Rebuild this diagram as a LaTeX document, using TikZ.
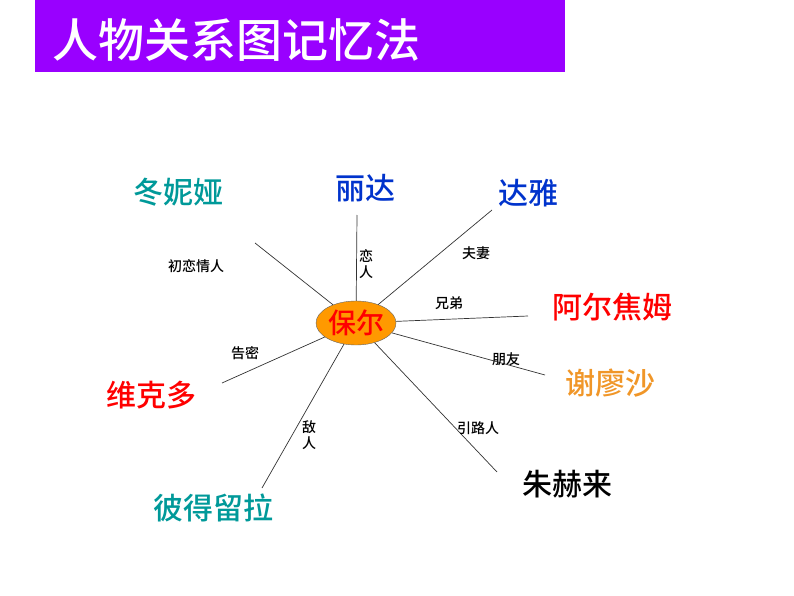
\documentclass[tikz,border=0pt]{standalone}
\usepackage{fontspec}
\newfontfamily\cjk{Noto Sans CJK SC Medium}
\usetikzlibrary{shapes.geometric}
\definecolor{ttl}{RGB}{153,0,255}
\definecolor{teal2}{RGB}{0,153,153}
\definecolor{blu}{RGB}{0,51,204}
\definecolor{org}{RGB}{255,153,0}
\definecolor{org2}{RGB}{240,150,40}
\begin{document}
\begin{tikzpicture}[x=1pt,y=-1pt,
  nm/.style={font=\cjk\fontsize{30}{32}\selectfont,inner sep=0pt},
  lb/.style={font=\cjk\fontsize{14}{16}\selectfont,inner sep=0pt,align=center},
  ln/.style={draw=black!80,line width=0.7pt}]
\useasboundingbox (0,0) rectangle (794,596);
\fill[ttl] (35,0) rectangle (565,72);
\node[font=\cjk\fontsize{46}{50}\selectfont,text=white,anchor=west,inner sep=0pt] (title) at (52,40) {人物关系图记忆法};
\node[ellipse,fill=org,draw=black!60,minimum width=80pt,minimum height=44pt,inner sep=0pt,font=\cjk\fontsize{28}{30}\selectfont,text=red] (c) at (356,323) {保尔};
\node[nm,text=teal2] (a) at (178,192) {冬妮娅};
\node[nm,text=blu] (b) at (365,188) {丽达};
\node[nm,text=blu] (d) at (528,193) {达雅};
\node[nm,text=red] (e) at (612,307) {阿尔焦姆};
\node[nm,text=org2] (f) at (610,383) {谢廖沙};
\node[nm,text=black] (g) at (567,484) {朱赫来};
\node[nm,text=teal2] (h) at (213,508) {彼得留拉};
\node[nm,text=red] (i) at (151,395) {维克多};
\coordinate (pa) at (255,243); \coordinate (pb) at (357,215);
\coordinate (pd) at (492,210); \coordinate (pe) at (528,316);
\coordinate (pf) at (545,375); \coordinate (pg) at (497,472);
\coordinate (ph) at (262,488); \coordinate (pi) at (222,383);
\foreach \p in {pa,pb,pd,pe,pf,pg,ph,pi} \draw[ln] (c) -- (\p);
\node[lb] (la) at (196,266) {初恋情人};
\node[lb] (lb1) at (366,264) {恋\\人};
\node[lb] (ld) at (476,253) {夫妻};
\node[lb] (le) at (449,303) {兄弟};
\node[lb] (lf) at (506,359) {朋友};
\node[lb] (lg) at (478,428) {引路人};
\node[lb] (lh) at (309,435) {敌\\人};
\node[lb] (li) at (245,353) {告密};
\end{tikzpicture}
\end{document}
